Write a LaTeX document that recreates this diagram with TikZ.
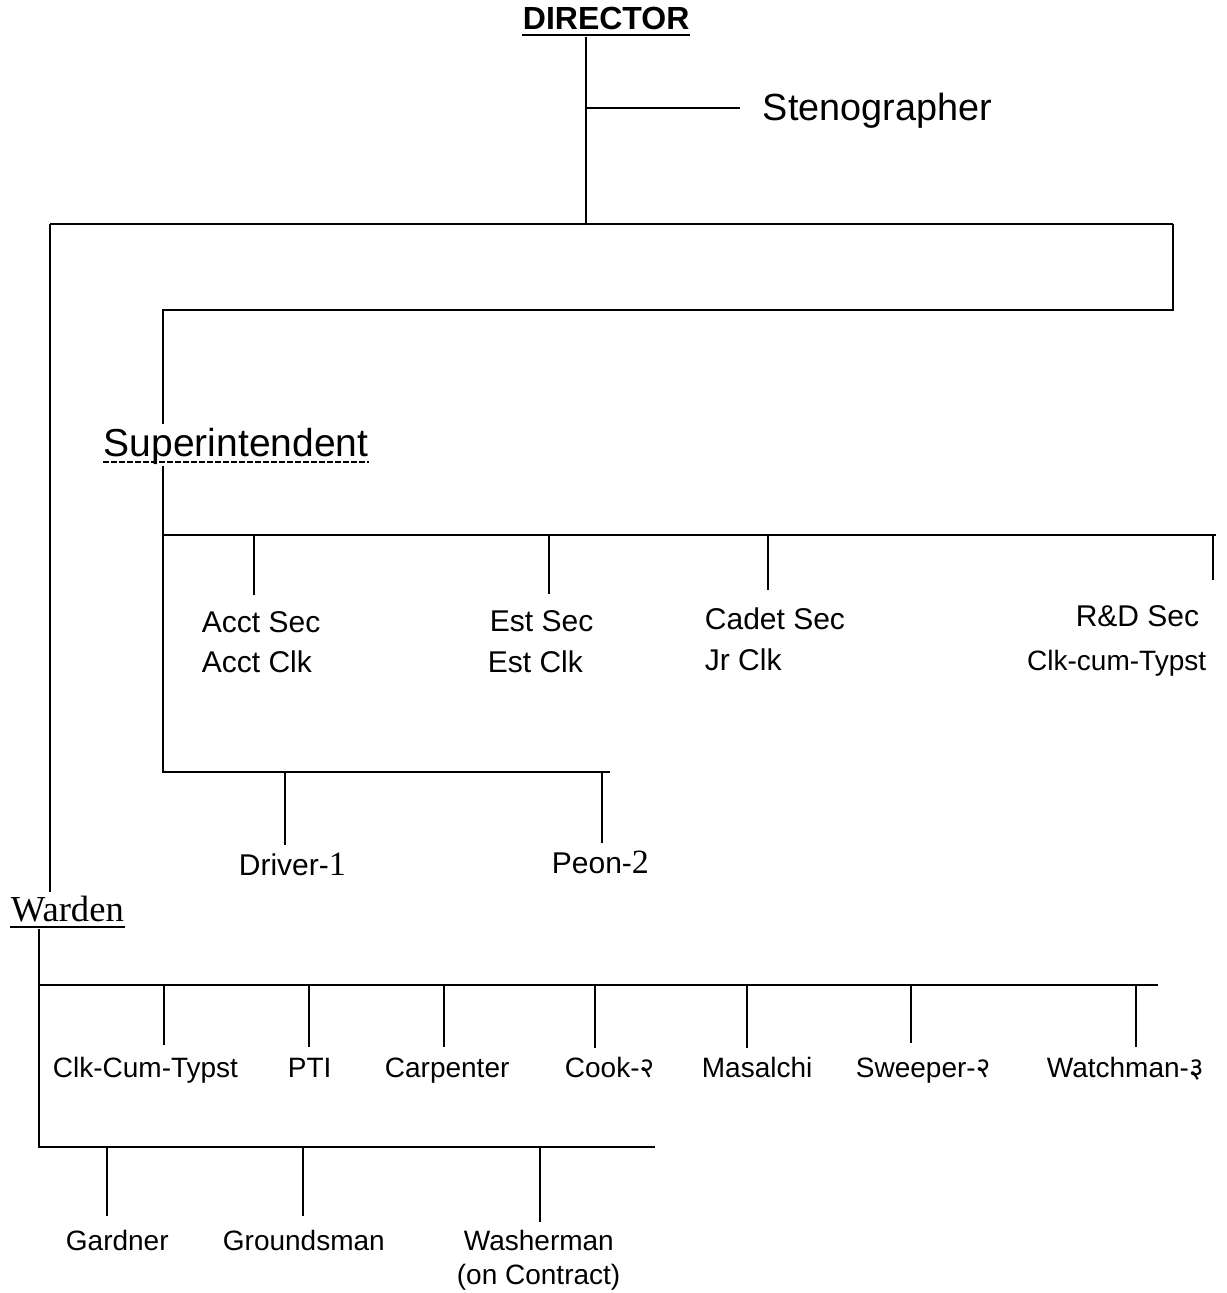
\documentclass[tikz,border=0pt]{standalone}
\usepackage{fontspec}
\setmainfont{Liberation Sans}
\newfontfamily\serfont{Liberation Serif}
\newfontfamily\devafont[Script=Devanagari]{Noto Sans}
\newcommand{\fsz}[1]{\fontsize{#1pt}{#1pt}\selectfont}
\newcommand{\sdig}[1]{{\serfont\fsz{17}#1}}
\newcommand{\ddig}[1]{{\devafont\fsz{14}#1}}
\begin{document}
\begin{tikzpicture}[x=0.5pt,y=-0.5pt,line width=0.9pt,
  lbl/.style={inner sep=0pt,font=\fsz{15}},
  lbs/.style={inner sep=0pt,font=\fsz{14}},
  wire/.style={line width=0.9pt}]
\useasboundingbox (0,0) rectangle (1226,1293);

% ---- texts ----
\node[inner sep=0pt,anchor=base west,font=\bfseries\fsz{16}] (dir) at (522,30) {DIRECTOR};
\node[inner sep=0pt,anchor=base west,font=\fsz{18.9}] (sten) at (762,121) {Stenographer};
\node[inner sep=0pt,anchor=base west,font=\fsz{19.5}] (supt) at (103,457) {Superintendent};
\node[inner sep=0pt,anchor=base west,font=\serfont\fsz{18.3}] (ward) at (10,921) {Warden};

\node[lbl,anchor=base west] (acs) at (201,632) {Acct Sec};
\node[lbl,anchor=base west] (acc) at (201,672) {Acct Clk};
\node[lbl,anchor=base west] (ess) at (489,631) {Est Sec};
\node[lbl,anchor=base west] (esc) at (487,672) {Est Clk};
\node[lbl,anchor=base west] (cds) at (704,629) {Cadet Sec};
\node[lbl,anchor=base west] (jrc) at (704,670) {Jr Clk};
\node[lbl,anchor=base east] (rds) at (1200,626) {R\&D Sec};
\node[lbl,anchor=base east,font=\fsz{14}] (rdc) at (1207,670) {Clk-cum-Typst};

\node[lbl,anchor=base west] (drv) at (238,875) {Driver-\sdig{1}};
\node[lbl,anchor=base west] (peon) at (551,873) {Peon-\sdig{2}};

\node[lbs,anchor=base west] (wclk) at (52,1077) {Clk-Cum-Typst};
\node[lbs,anchor=base west] (pti) at (287,1077) {PTI};
\node[lbs,anchor=base west] (carp) at (384,1077) {Carpenter};
\node[lbs,anchor=base west] (cook) at (564,1077) {Cook-\ddig{२}};
\node[lbs,anchor=base west] (masa) at (701,1077) {Masalchi};
\node[lbs,anchor=base west] (swp) at (855,1077) {Sweeper-\ddig{२}};
\node[lbs,anchor=base west] (wat) at (1046,1077) {Watchman-\ddig{३}};

\node[lbs,anchor=base west] (gard) at (65,1250) {Gardner};
\node[lbs,anchor=base west] (grnd) at (222,1250) {Groundsman};
\node[lbs,anchor=base west] (wash) at (463,1250) {Washerman};
\node[lbs,anchor=base west] (cont) at (456,1284) {(on Contract)};

% ---- underlines ----
\draw[line width=0.8pt] ([yshift=-2.5pt]dir.base west) -- ([yshift=-2.5pt]dir.base east);
\draw[line width=0.6pt,dash pattern=on 3pt off 1pt] ([yshift=-2.5pt]supt.base west) -- ([yshift=-2.5pt]supt.base east);
\draw[line width=0.7pt] ([yshift=-3pt]ward.base west) -- ([yshift=-3pt]ward.base east);

% ---- junction coordinates ----
\coordinate (d0) at (586,37);
\coordinate (d1) at (586,108);
\coordinate (s0) at (740,108);
\coordinate (d2) at (586,224);
\coordinate (mL) at (50,224);
\coordinate (mR) at (1173,224);
\coordinate (rR) at (1173,310);
\coordinate (rL) at (163,310);
\coordinate (sT) at (163,424);
\coordinate (sB) at (163,466);
\coordinate (sH) at (163,535);
\coordinate (sHR) at (1216,535);
\coordinate (sD) at (163,772);
\coordinate (sDR) at (610,772);
\coordinate (wT) at (50,892);
\coordinate (wB) at (39,929);
\coordinate (wH) at (39,985);
\coordinate (wHR) at (1158,985);
\coordinate (wL) at (39,1147);
\coordinate (wLR) at (655,1147);

% ---- connectors ----
\draw[wire] (d0) -- (d2);
\draw[wire] (d1) -- (s0);
\draw[wire] (mL) -- (mR);
\draw[wire] (mR) -- (rR) -- (rL) -- (sT);
\draw[wire] (mL) -- (wT);
\draw[wire] (sB) -- (sD) -- (sDR);
\draw[wire] (sH) -- (sHR);
\draw[wire] (254,535) -- (254,595);
\draw[wire] (549,535) -- (549,594);
\draw[wire] (768,535) -- (768,590);
\draw[wire] (1213,535) -- (1213,580);
\draw[wire] (285,772) -- (285,845);
\draw[wire] (602,772) -- (602,843);
\draw[wire] (wB) -- (wL) -- (wLR);
\draw[wire] (wH) -- (wHR);
\draw[wire] (164,985) -- (164,1045);
\draw[wire] (309,985) -- (309,1047);
\draw[wire] (444,985) -- (444,1047);
\draw[wire] (595,985) -- (595,1048);
\draw[wire] (747,985) -- (747,1048);
\draw[wire] (911,985) -- (911,1043);
\draw[wire] (1136,985) -- (1136,1047);
\draw[wire] (107,1147) -- (107,1216);
\draw[wire] (303,1147) -- (303,1216);
\draw[wire] (540,1147) -- (540,1222);
\end{tikzpicture}
\end{document}
